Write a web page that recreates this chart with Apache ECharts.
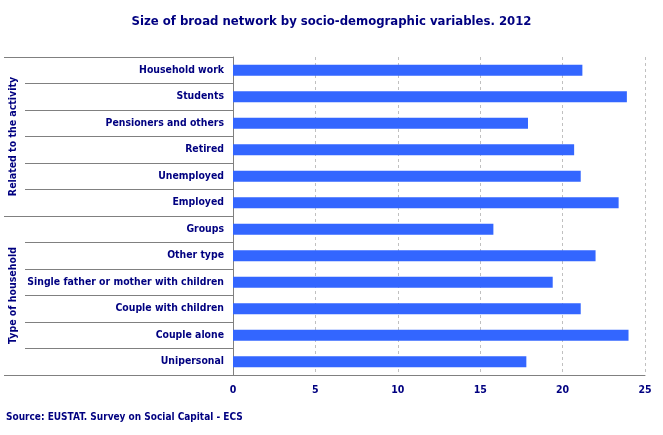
<!DOCTYPE html>
<html>
<head>
<meta charset="utf-8">
<script src="https://cdn.jsdelivr.net/npm/echarts@6/dist/echarts.min.js"></script>
<style>
  html, body { margin: 0; padding: 0; background: #fff; }
  #chart { width: 663px; height: 435px; }
</style>
</head>
<body>
<div id="chart"></div>
<script>
// categories, top to bottom as in the picture
var categories = [
  'Household work', 'Students', 'Pensioners and others', 'Retired', 'Unemployed', 'Employed',
  'Groups', 'Other type', 'Single father or mother with children', 'Couple with children',
  'Couple alone', 'Unipersonal'
];
// broad network size
var values = [21.2, 23.9, 17.9, 20.7, 21.1, 23.4, 15.8, 22.0, 19.4, 21.1, 24.0, 17.8];
// two blocks of six categories each
var groups = ['Related to the activity', 'Type of household'];
// x axis ticks
var xTicks = [0, 5, 10, 15, 20, 25];

var NAVY = '#000080';
var GREY = '#808080';
var FONT = '"DejaVu Sans Condensed", "DejaVu Sans", sans-serif';

var chart = echarts.init(document.getElementById('chart'), null, { renderer: 'canvas' });

chart.setOption({
  animation: false,
  backgroundColor: '#fff',
  textStyle: { fontFamily: FONT },
  title: [{
    text: 'Size of broad network by socio-demographic variables. 2012',
    left: 'center',
    top: 10,
    textStyle: { color: NAVY, fontSize: 13, fontWeight: 'bold', fontFamily: FONT }
  }, {
    text: 'Source: EUSTAT. Survey on Social Capital - ECS',
    left: 1,
    top: 407,
    textStyle: { color: NAVY, fontSize: 10, fontWeight: 'bold', fontFamily: FONT }
  }],
  grid: { left: 233, right: 18, top: 57, bottom: 60, containLabel: false },
  xAxis: {
    type: 'value',
    min: xTicks[0],
    max: xTicks[xTicks.length - 1],
    interval: xTicks[1] - xTicks[0],
    axisLine: { show: true, lineStyle: { color: GREY, width: 1 } },
    axisTick: { show: false },
    axisLabel: { color: NAVY, fontSize: 10.5, fontWeight: 'bold', margin: 10, fontFamily: FONT },
    splitLine: { show: true, lineStyle: { color: '#c0c0c0', type: [3, 3], width: 1 } }
  },
  yAxis: [{
    type: 'category',
    data: categories,
    inverse: true,
    axisLine: { show: true, lineStyle: { color: GREY, width: 1 } },
    axisTick: { show: true, length: 208, lineStyle: { color: GREY, width: 1 } },
    axisLabel: { color: NAVY, fontSize: 10.4, fontWeight: 'bold', margin: 9, fontFamily: FONT },
    splitLine: { show: false }
  }, {
    type: 'category',
    data: groups,
    inverse: true,
    position: 'left',
    offset: 0,
    axisLine: { show: false },
    axisTick: { show: true, length: 229, lineStyle: { color: GREY, width: 1 } },
    axisLabel: { color: NAVY, fontSize: 10.5, fontWeight: 'bold', rotate: 90, margin: 214, fontFamily: FONT },
    splitLine: { show: false }
  }],
  series: [{
    type: 'bar',
    yAxisIndex: 0,
    data: values,
    barWidth: 11,
    itemStyle: { color: '#3366ff' }
  }]
});
</script>
</body>
</html>
